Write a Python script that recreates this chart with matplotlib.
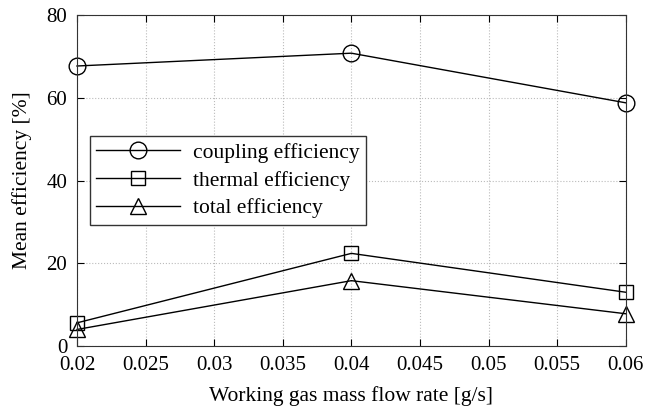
import numpy as np
import matplotlib.pyplot as plt

plt.rcParams['font.family'] = ['Liberation Serif', 'DejaVu Serif']

flow = [0.02, 0.04, 0.06]
coupling = [67.7, 70.8, 58.8]
thermal = [5.6, 22.4, 13.0]
total = [4.0, 15.8, 7.8]

fig = plt.figure(figsize=(6.58, 4.09), dpi=100)
ax = fig.add_axes([0.117, 0.154, 0.834, 0.809])

ax.plot(flow, coupling, color='black', lw=1, marker='o', ms=12, mfc='none', mew=1, clip_on=False, label='coupling efficiency')
ax.plot(flow, thermal, color='black', lw=1, marker='s', ms=10, mfc='none', mew=1, clip_on=False, label='thermal efficiency')
ax.plot(flow, total, color='black', lw=1, marker='^', ms=12, mfc='none', mew=1, clip_on=False, label='total efficiency')

ax.set_xlim(0.02, 0.06)
ax.set_ylim(0, 80)
ax.set_xticks(np.arange(0.02, 0.0601, 0.005))
ax.set_xticklabels(['0.02', '0.025', '0.03', '0.035', '0.04', '0.045', '0.05', '0.055', '0.06'])
ax.set_yticks([0, 20, 40, 60, 80])
ax.tick_params(direction='in', top=True, right=True, labelsize=15, length=5, pad=7)
ax.grid(True, color='#bbbbbb', linestyle=':', linewidth=0.8)
for s in ax.spines.values():
    s.set_color('#333333')

ax.set_xlabel('Working gas mass flow rate [g/s]', fontsize=15.5, labelpad=8)
ax.set_ylabel('Mean efficiency [%]', fontsize=15.5, labelpad=10)

leg = ax.legend(loc='upper left', bbox_to_anchor=(0.004, 0.666), fontsize=15.5,
                fancybox=False, framealpha=1, edgecolor='#333333',
                handlelength=3.9, borderpad=0.3, labelspacing=0.35, handletextpad=0.6)
leg.get_frame().set_linewidth(1)

fig.savefig('out.png', dpi=100)
